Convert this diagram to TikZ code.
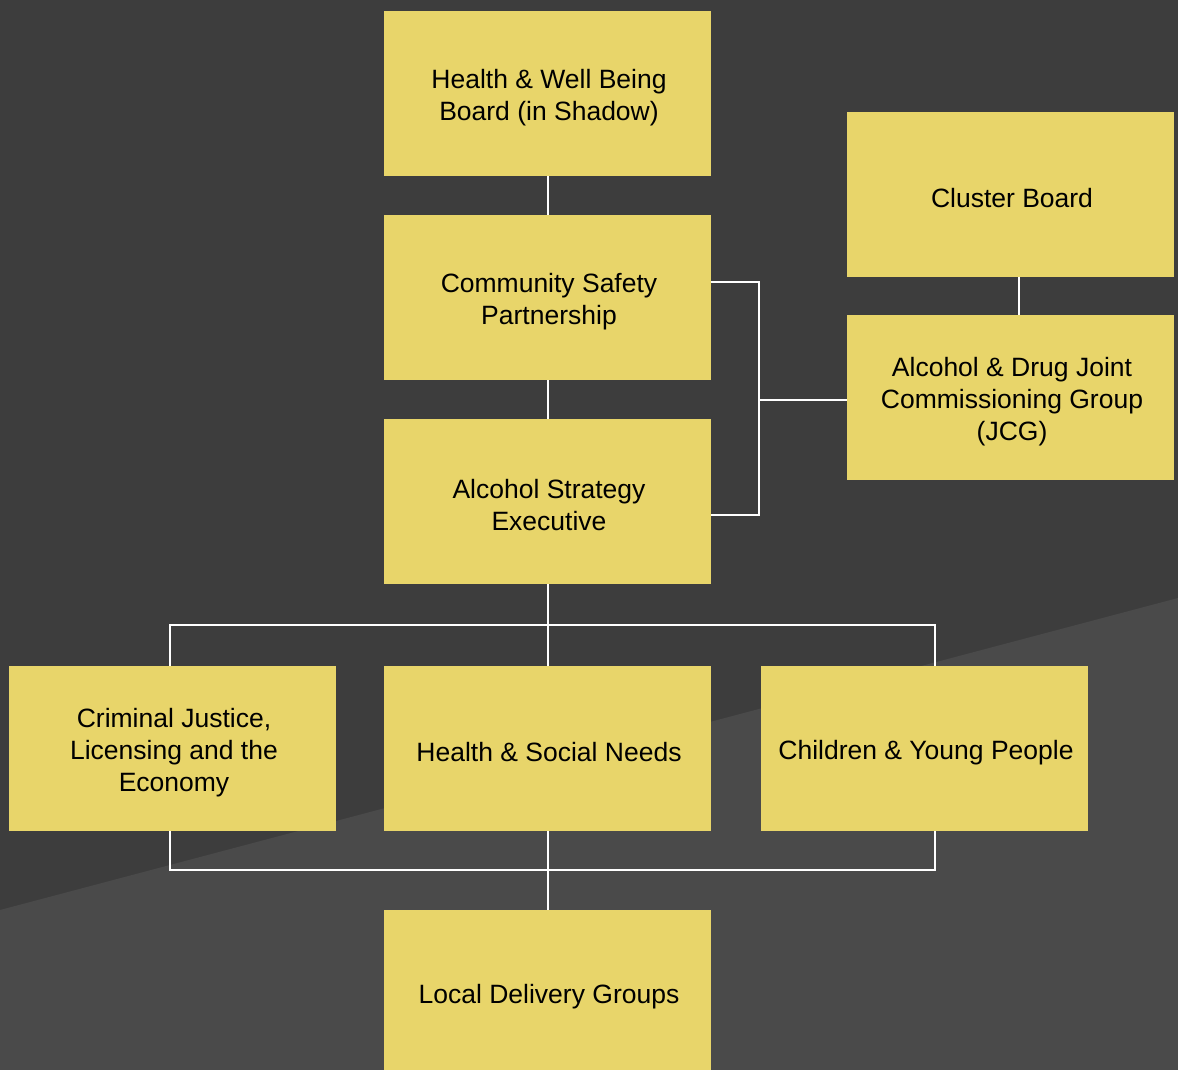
\documentclass[tikz,border=0pt]{standalone}
\usepackage{fontspec}
\setmainfont{Liberation Sans}
\definecolor{bgdark}{HTML}{3D3D3D}
\definecolor{bglight}{HTML}{4A4A4A}
\definecolor{boxyellow}{HTML}{E8D56A}
\begin{document}
\begin{tikzpicture}[x=1pt,y=-1pt,
  orgbox/.style={fill=boxyellow, draw=none, minimum width=327pt, minimum height=165pt,
    inner sep=0pt},
  boxtext/.style={inner sep=0pt, align=center, text=black, xshift=1.5pt, yshift=-4pt,
    font=\fontsize{26.5}{32}\selectfont},
  link/.style={draw=white, line width=2.2pt}]
\useasboundingbox (0,0) rectangle (1178,1070);
\fill[bgdark] (0,0) rectangle (1178,1070);
\fill[bglight] (0,910) -- (1178,598) -- (1178,1070) -- (0,1070) -- cycle;

\node[orgbox] (hwb) at (547.5,93.5) {};
\node[orgbox] (csp) at (547.5,297.5) {};
\node[orgbox] (ase) at (547.5,501.5) {};
\node[orgbox] (cb) at (1010.5,194.5) {};
\node[orgbox] (jcg) at (1010.5,397.5) {};
\node[orgbox] (cj) at (172.5,748.5) {};
\node[orgbox] (hsn) at (547.5,748.5) {};
\node[orgbox] (cyp) at (924.5,748.5) {};
\node[orgbox] (ldg) at (547.5,992.5) {};

\node[boxtext] (thwb) at (hwb.center) {Health \& Well Being\\Board (in Shadow)};
\node[boxtext] (tcsp) at (csp.center) {Community Safety\\Partnership};
\node[boxtext] (tase) at (ase.center) {Alcohol Strategy\\Executive};
\node[boxtext] (tcb) at (cb.center) {Cluster Board};
\node[boxtext] (tjcg) at (jcg.center) {Alcohol \& Drug Joint\\Commissioning Group\\(JCG)};
\node[boxtext] (tcj) at (cj.center) {Criminal Justice,\\Licensing and the\\Economy};
\node[boxtext] (thsn) at (hsn.center) {Health \& Social Needs};
\node[boxtext] (tcyp) at (cyp.center) {Children \& Young People};
\node[boxtext] (tldg) at (ldg.center) {Local Delivery Groups};

% bracket right of CSP/ASE
\coordinate (r1) at (759,282);
\coordinate (r2) at (759,515);
\coordinate (rm) at (759,400);
\coordinate (cbx) at (1019,296);
% buses
\coordinate (bt) at (548,625);
\coordinate (btl) at (170,625);
\coordinate (btr) at (935,625);
\coordinate (bb) at (548,870);
\coordinate (bbl) at (170,870);
\coordinate (bbr) at (935,870);

\draw[link] (hwb.south -| bt) -- (csp.north -| bt);
\draw[link] (csp.south -| bt) -- (ase.north -| bt);
\draw[link] (cb.south -| cbx) -- (jcg.north -| cbx);
\draw[link] (r1 -| csp.east) -- (r1) -- (r2) -- (r2 -| ase.east);
\draw[link] (rm) -- (rm -| jcg.west);

\draw[link] (ase.south -| bt) -- (bt);
\draw[link] (btl |- cj.north) -- (btl) -- (btr) -- (btr |- cyp.north);
\draw[link] (bt) -- (bt |- hsn.north);

\draw[link] (btl |- cj.south) -- (bbl) -- (bbr) -- (btr |- cyp.south);
\draw[link] (bt |- hsn.south) -- (bb);
\draw[link] (bb) -- (bb |- ldg.north);
\end{tikzpicture}
\end{document}
